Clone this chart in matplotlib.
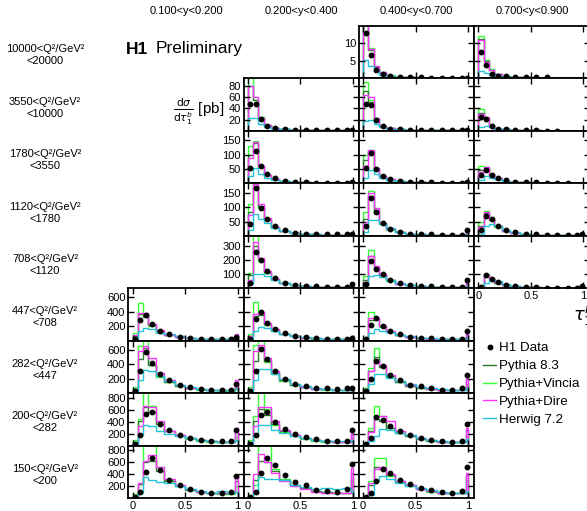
import numpy as np
import matplotlib
matplotlib.use("Agg")
import matplotlib.pyplot as plt
from matplotlib.lines import Line2D

plt.rcParams['font.family'] = ['Liberation Sans', 'DejaVu Sans']
nan = np.nan

# bin edges of tau_1^b
edges = [0, 0.05, 0.1, 0.15, 0.22, 0.3, 0.4, 0.5, 0.6, 0.7, 0.8, 0.9, 0.98, 1.0]

y_labels = ['0.100<y<0.200', '0.200<y<0.400', '0.400<y<0.700', '0.700<y<0.900']
q2_labels = ['10000<Q²/GeV²\n<20000', '3550<Q²/GeV²\n<10000', '1780<Q²/GeV²\n<3550',
             '1120<Q²/GeV²\n<1780', '708<Q²/GeV²\n<1120', '447<Q²/GeV²\n<708',
             '282<Q²/GeV²\n<447', '200<Q²/GeV²\n<282', '150<Q²/GeV²\n<200']
row_ymax = [15, 93, 183, 184, 370, 723, 725, 880, 875]
row_yticks = [[5, 10], [20, 40, 60, 80], [50, 100, 150], [50, 100, 150], [100, 200, 300],
              [200, 400, 600], [200, 400, 600], [200, 400, 600, 800], [200, 400, 600, 800]]

# ---- row 0 : 10000<Q2<20000
data_0_2 = [13.0, 6.8, 2.5, 1.3, 0.6, 0.4, 0.3, 0.3, 0.2, 0.2, 0.2, 0.1, 0.1]
p83_0_2 = [16.5, 8.0, 3.3, 1.7, 0.8, 0.5, 0.3, 0.25, 0.2, 0.15, 0.1, 0.1, 0.3]
vin_0_2 = [17.0, 8.6, 3.7, 1.8, 0.9, 0.5, 0.3, 0.25, 0.2, 0.15, 0.1, 0.1, 0.2]
dire_0_2 = [17.5, 8.4, 3.5, 1.8, 0.8, 0.5, 0.3, 0.25, 0.2, 0.15, 0.1, 0.1, 0.5]
hw_0_2 = [5.2, 3.6, 2.0, 1.1, 0.6, 0.4, 0.3, 0.2, 0.2, 0.15, 0.1, 0.1, 0.1]

data_0_3 = [7.5, 3.9, 1.2, 0.8, 0.6, 0.4, 0.3, 0.3, 0.3, nan, nan, nan, nan]
p83_0_3 = [11.3, 5.0, 2.5, 1.3, 0.7, 0.4, 0.3, 0.2, 0.2, 0.1, 0.05, 0.0, 0.0]
vin_0_3 = [12.0, 5.2, 2.6, 1.4, 0.7, 0.4, 0.3, 0.2, 0.2, 0.1, 0.05, 0.0, 0.0]
dire_0_3 = [11.0, 4.8, 2.5, 1.3, 0.7, 0.4, 0.3, 0.2, 0.2, 0.1, 0.05, 0.0, 0.0]
hw_0_3 = [2.0, 1.5, 1.0, 0.8, 0.6, 0.4, 0.3, 0.2, 0.1, 0.1, 0.05, 0.0, 0.0]

# ---- row 1 : 3550<Q2<10000
data_1_1 = [48, 47, 21, 9, 5, 3, 2, 1.5, 1, 1, 1, 1, 1.5]
p83_1_1 = [80, 55, 22, 10, 5, 3, 2, 1.5, 1, 1, 1, 1, 2]
vin_1_1 = [100, 55, 24, 10, 5, 3, 2, 1.5, 1, 1, 1, 1, 1]
dire_1_1 = [79, 60, 23, 10, 5, 3, 2, 1.5, 1, 1, 1, 1, 3]
hw_1_1 = [22, 23, 12, 7, 4, 3, 2, 1.5, 1, 1, 1, 1, 1]

data_1_2 = [47, 46, 19, 8, 4, 2.5, 1.5, 1, 1, 0.8, 0.8, 0.8, 2]
p83_1_2 = [70, 52, 20, 9, 4.5, 2.5, 1.5, 1, 1, 0.8, 0.8, 0.8, 2]
vin_1_2 = [87, 55, 22, 9, 4.5, 2.5, 1.5, 1, 1, 0.8, 0.8, 0.8, 1]
dire_1_2 = [63, 60, 22, 9, 4.5, 2.5, 1.5, 1, 1, 0.8, 0.8, 0.8, 3]
hw_1_2 = [18, 20, 12, 7, 4, 2.5, 1.5, 1, 1, 0.8, 0.8, 0.8, 1]

data_1_3 = [24, 21, 9, 4, 2.5, 1.5, 1, 0.8, 0.6, 0.5, nan, nan, nan]
p83_1_3 = [32, 22, 9, 4, 2.5, 1.5, 1, 0.8, 0.6, 0.5, 0.3, 0.2, 0.1]
vin_1_3 = [38, 22, 10, 4, 2.5, 1.5, 1, 0.8, 0.6, 0.5, 0.3, 0.2, 0.1]
dire_1_3 = [30, 25, 10, 4, 2.5, 1.5, 1, 0.8, 0.6, 0.5, 0.3, 0.2, 0.1]
hw_1_3 = [7, 9, 7, 4, 2.5, 1.5, 1, 0.8, 0.6, 0.5, 0.3, 0.2, 0.1]

# ---- row 2 : 1780<Q2<3550
data_2_1 = [55, 114, 59, 32, 17, 8, 4, 3, 2, 2, 2, 2, 5]
p83_2_1 = [100, 140, 62, 30, 15, 8, 4, 3, 2, 2, 2, 2, 4]
vin_2_1 = [129, 148, 58, 28, 14, 7, 4, 3, 2, 2, 2, 2, 3]
dire_2_1 = [88, 144, 61, 30, 15, 8, 4, 3, 2, 2, 2, 2, 7]
hw_2_1 = [26, 55, 32, 20, 13, 7, 4, 3, 2, 2, 2, 2, 2]

data_2_2 = [53, 105, 50, 26, 14, 8, 5, 3, 3, 2, 2, 2, 5]
p83_2_2 = [80, 112, 52, 26, 13, 7, 4, 3, 2, 2, 2, 2, 4]
vin_2_2 = [99, 117, 50, 25, 13, 7, 4, 3, 2, 2, 2, 2, 3]
dire_2_2 = [61, 117, 55, 27, 14, 7, 4, 3, 2, 2, 2, 2, 7]
hw_2_2 = [20, 46, 32, 20, 12, 7, 4, 3, 2, 2, 2, 2, 2]

data_2_3 = [28, 45, 30, 18, 10, 6, 4, 3, 2, 2, 2, nan, nan]
p83_2_3 = [45, 55, 30, 16, 9, 5, 3, 2, 2, 1, 1, 1, 1]
vin_2_3 = [60, 58, 30, 16, 9, 5, 3, 2, 2, 1, 1, 1, 1]
dire_2_3 = [40, 57, 32, 17, 9, 5, 3, 2, 2, 1, 1, 1, 2]
hw_2_3 = [12, 25, 20, 14, 9, 5, 3, 2, 2, 1, 1, 1, 1]

# ---- row 3 : 1120<Q2<1780
data_3_1 = [42, 166, 98, 60, 33, 19, 11, 8, 6, 5, 5, 5, 7]
p83_3_1 = [85, 175, 105, 58, 30, 17, 10, 7, 5, 4, 4, 4, 6]
vin_3_1 = [113, 200, 99, 55, 29, 16, 10, 7, 5, 4, 4, 4, 5]
dire_3_1 = [72, 180, 113, 62, 31, 17, 10, 7, 5, 4, 4, 4, 9]
hw_3_1 = [19, 75, 60, 45, 28, 17, 10, 7, 5, 4, 4, 4, 3]

data_3_2 = [33, 131, 84, 45, 25, 13, 8, 6, 5, 4, 4, 4, 21]
p83_3_2 = [60, 140, 90, 44, 23, 12, 7, 5, 4, 3, 3, 3, 15]
vin_3_2 = [84, 158, 84, 42, 22, 12, 7, 5, 4, 3, 3, 3, 10]
dire_3_2 = [48, 149, 96, 46, 24, 12, 7, 5, 4, 3, 3, 3, 18]
hw_3_2 = [13, 57, 54, 42, 26, 14, 8, 5, 4, 3, 3, 3, 5]

data_3_3 = [20, 70, 58, 35, 20, 12, 7, 5, 4, 3, 3, 3, 6]
p83_3_3 = [35, 80, 55, 33, 18, 10, 6, 4, 3, 3, 2, 2, 4]
vin_3_3 = [50, 88, 55, 32, 18, 10, 6, 4, 3, 3, 2, 2, 3]
dire_3_3 = [30, 85, 60, 34, 18, 10, 6, 4, 3, 3, 2, 2, 5]
hw_3_3 = [8, 35, 42, 35, 22, 12, 7, 4, 3, 3, 2, 2, 2]

# ---- row 4 : 708<Q2<1120
data_4_1 = [37, 254, 196, 121, 75, 40, 26, 18, 14, 12, 12, 12, 33]
p83_4_1 = [90, 300, 205, 115, 65, 36, 22, 15, 11, 9, 8, 8, 25]
vin_4_1 = [110, 380, 190, 108, 62, 35, 22, 15, 11, 9, 8, 8, 18]
dire_4_1 = [60, 324, 214, 120, 66, 36, 22, 15, 11, 9, 8, 8, 35]
hw_4_1 = [33, 98, 103, 85, 60, 38, 24, 16, 12, 10, 9, 9, 10]

data_4_2 = [33, 191, 137, 98, 60, 37, 24, 17, 13, 11, 11, 12, 56]
p83_4_2 = [60, 230, 150, 95, 55, 33, 21, 14, 10, 8, 8, 8, 40]
vin_4_2 = [84, 270, 145, 90, 53, 32, 20, 14, 10, 8, 8, 8, 30]
dire_4_2 = [45, 230, 155, 98, 56, 33, 21, 14, 10, 8, 8, 8, 50]
hw_4_2 = [21, 84, 91, 80, 58, 38, 25, 17, 12, 10, 9, 9, 15]

data_4_3 = [9, 91, 68, 44, 26, 14, 9, 6, 5, 4, 4, 4, 14]
p83_4_3 = [15, 95, 65, 40, 24, 13, 8, 6, 4, 4, 3, 3, 10]
vin_4_3 = [22, 103, 62, 38, 23, 13, 8, 6, 4, 4, 3, 3, 8]
dire_4_3 = [12, 91, 66, 41, 24, 13, 8, 6, 4, 4, 3, 3, 12]
hw_4_3 = [5, 40, 62, 52, 33, 18, 10, 7, 5, 4, 3, 3, 4]

# ---- row 5 : 447<Q2<708
data_5_0 = [18, 291, 350, 232, 132, 86, 55, 36, 27, 27, 27, 27, 55]
p83_5_0 = [60, 370, 330, 215, 130, 80, 50, 34, 25, 22, 20, 20, 50]
vin_5_0 = [109, 519, 368, 200, 120, 75, 48, 32, 24, 20, 18, 18, 35]
dire_5_0 = [73, 382, 382, 236, 146, 85, 52, 35, 26, 22, 20, 20, 86]
hw_5_0 = [27, 132, 177, 164, 109, 86, 58, 40, 30, 25, 22, 22, 25]

data_5_1 = [27, 300, 396, 245, 164, 100, 64, 45, 36, 27, 27, 27, 36]
p83_5_1 = [70, 340, 360, 230, 150, 95, 60, 42, 32, 26, 24, 24, 35]
vin_5_1 = [90, 528, 380, 215, 140, 90, 58, 40, 30, 25, 22, 22, 25]
dire_5_1 = [60, 368, 400, 250, 155, 95, 60, 42, 32, 26, 24, 24, 45]
hw_5_1 = [25, 130, 195, 180, 130, 95, 65, 45, 34, 28, 25, 25, 22]

data_5_2 = [20, 223, 314, 209, 132, 86, 55, 41, 32, 27, 27, 30, 132]
p83_5_2 = [40, 280, 300, 200, 125, 80, 52, 38, 28, 24, 22, 22, 90]
vin_5_2 = [55, 396, 300, 190, 120, 78, 50, 36, 27, 23, 21, 21, 60]
dire_5_2 = [35, 314, 310, 205, 128, 80, 52, 38, 28, 24, 22, 22, 110]
hw_5_2 = [15, 109, 164, 140, 115, 85, 60, 42, 32, 26, 23, 23, 35]

# ---- row 6 : 282<Q2<447
data_6_0 = [23, 300, 563, 416, 263, 176, 106, 79, 55, 46, 46, 46, 129]
p83_6_0 = [60, 470, 620, 390, 240, 160, 100, 70, 52, 42, 38, 38, 110]
vin_6_0 = [83, 647, 780, 393, 230, 150, 95, 66, 48, 40, 36, 36, 70]
dire_6_0 = [46, 577, 647, 485, 277, 185, 110, 75, 55, 44, 40, 40, 185]
hw_6_0 = [23, 185, 323, 300, 231, 162, 110, 80, 60, 48, 44, 44, 60]

data_6_1 = [23, 300, 610, 476, 310, 199, 125, 92, 69, 65, 55, 69, 69]
p83_6_1 = [60, 450, 640, 450, 280, 180, 115, 85, 62, 52, 46, 46, 60]
vin_6_1 = [80, 660, 800, 430, 265, 170, 110, 80, 60, 50, 44, 44, 40]
dire_6_1 = [50, 580, 660, 490, 300, 190, 120, 88, 64, 54, 48, 48, 80]
hw_6_1 = [25, 180, 330, 340, 260, 190, 130, 95, 70, 56, 50, 50, 55]

data_6_2 = [30, 194, 448, 370, 254, 185, 115, 92, 69, 46, 46, 69, 254]
p83_6_2 = [50, 300, 500, 360, 240, 160, 105, 78, 58, 46, 42, 42, 200]
vin_6_2 = [70, 350, 624, 370, 230, 150, 100, 74, 55, 44, 40, 40, 130]
dire_6_2 = [45, 300, 462, 393, 250, 165, 108, 80, 60, 48, 44, 44, 240]
hw_6_2 = [20, 130, 270, 265, 210, 165, 120, 90, 68, 54, 48, 48, 70]

# ---- row 7 : 200<Q2<282
data_7_0 = [31, 182, 535, 557, 367, 255, 182, 126, 87, 70, 70, 70, 255]
p83_7_0 = [60, 420, 640, 560, 370, 240, 170, 120, 86, 70, 64, 64, 230]
vin_7_0 = [98, 450, 950, 660, 390, 240, 165, 115, 82, 66, 60, 60, 150]
dire_7_0 = [42, 330, 660, 650, 410, 250, 175, 125, 90, 72, 65, 65, 300]
hw_7_0 = [20, 182, 350, 322, 238, 200, 160, 120, 90, 72, 66, 66, 90]

data_7_1 = [30, 180, 510, 570, 400, 280, 200, 140, 105, 80, 75, 75, 260]
p83_7_1 = [60, 420, 620, 520, 360, 250, 175, 125, 90, 70, 64, 64, 200]
vin_7_1 = [90, 500, 950, 620, 340, 235, 165, 118, 85, 68, 62, 62, 130]
dire_7_1 = [45, 330, 640, 640, 420, 260, 180, 128, 92, 72, 66, 66, 300]
hw_7_1 = [20, 170, 340, 350, 260, 210, 165, 125, 95, 78, 70, 70, 100]

data_7_2 = [20, 126, 482, 437, 336, 241, 185, 129, 101, 73, 62, 84, 370]
p83_7_2 = [40, 250, 450, 420, 300, 215, 160, 115, 85, 65, 58, 58, 260]
vin_7_2 = [60, 300, 672, 500, 300, 210, 155, 110, 82, 63, 56, 56, 160]
dire_7_2 = [30, 220, 493, 504, 409, 240, 170, 120, 88, 68, 60, 60, 300]
hw_7_2 = [15, 80, 157, 280, 269, 213, 175, 130, 100, 78, 68, 68, 110]

# ---- row 8 : 150<Q2<200
data_8_0 = [10, 100, 430, 670, 475, 305, 217, 143, 103, 86, 86, 97, 371]
p83_8_0 = [30, 230, 600, 620, 450, 290, 200, 140, 100, 82, 78, 78, 280]
vin_8_0 = [60, 230, 1000, 1000, 514, 300, 200, 140, 100, 80, 75, 75, 200]
dire_8_0 = [20, 250, 622, 711, 522, 311, 210, 145, 105, 85, 80, 80, 380]
hw_8_0 = [8, 86, 343, 300, 270, 257, 200, 155, 115, 85, 110, 80, 100]

data_8_1 = [11, 108, 423, 662, 554, 377, 263, 217, 137, 120, 108, 148, 565]
p83_8_1 = [30, 300, 620, 600, 450, 300, 210, 160, 115, 95, 85, 90, 420]
vin_8_1 = [50, 223, 1000, 1000, 480, 320, 220, 160, 115, 95, 85, 90, 300]
dire_8_1 = [20, 400, 737, 594, 423, 280, 194, 148, 108, 91, 80, 80, 508]
hw_8_1 = [10, 80, 354, 320, 320, 297, 223, 177, 148, 166, 148, 166, 120]

data_8_2 = [11, 80, 280, 480, 423, 308, 234, 166, 126, 97, 91, 120, 525]
p83_8_2 = [30, 220, 520, 480, 380, 280, 210, 150, 110, 88, 80, 85, 380]
vin_8_2 = [40, 280, 662, 662, 370, 275, 205, 148, 108, 86, 78, 82, 300]
dire_8_2 = [25, 250, 491, 525, 394, 285, 210, 150, 110, 88, 80, 85, 423]
hw_8_2 = [10, 51, 280, 365, 320, 251, 194, 166, 137, 108, 91, 80, 110]

panels = {
    (0, 2): (data_0_2, p83_0_2, vin_0_2, dire_0_2, hw_0_2),
    (0, 3): (data_0_3, p83_0_3, vin_0_3, dire_0_3, hw_0_3),
    (1, 1): (data_1_1, p83_1_1, vin_1_1, dire_1_1, hw_1_1),
    (1, 2): (data_1_2, p83_1_2, vin_1_2, dire_1_2, hw_1_2),
    (1, 3): (data_1_3, p83_1_3, vin_1_3, dire_1_3, hw_1_3),
    (2, 1): (data_2_1, p83_2_1, vin_2_1, dire_2_1, hw_2_1),
    (2, 2): (data_2_2, p83_2_2, vin_2_2, dire_2_2, hw_2_2),
    (2, 3): (data_2_3, p83_2_3, vin_2_3, dire_2_3, hw_2_3),
    (3, 1): (data_3_1, p83_3_1, vin_3_1, dire_3_1, hw_3_1),
    (3, 2): (data_3_2, p83_3_2, vin_3_2, dire_3_2, hw_3_2),
    (3, 3): (data_3_3, p83_3_3, vin_3_3, dire_3_3, hw_3_3),
    (4, 1): (data_4_1, p83_4_1, vin_4_1, dire_4_1, hw_4_1),
    (4, 2): (data_4_2, p83_4_2, vin_4_2, dire_4_2, hw_4_2),
    (4, 3): (data_4_3, p83_4_3, vin_4_3, dire_4_3, hw_4_3),
    (5, 0): (data_5_0, p83_5_0, vin_5_0, dire_5_0, hw_5_0),
    (5, 1): (data_5_1, p83_5_1, vin_5_1, dire_5_1, hw_5_1),
    (5, 2): (data_5_2, p83_5_2, vin_5_2, dire_5_2, hw_5_2),
    (6, 0): (data_6_0, p83_6_0, vin_6_0, dire_6_0, hw_6_0),
    (6, 1): (data_6_1, p83_6_1, vin_6_1, dire_6_1, hw_6_1),
    (6, 2): (data_6_2, p83_6_2, vin_6_2, dire_6_2, hw_6_2),
    (7, 0): (data_7_0, p83_7_0, vin_7_0, dire_7_0, hw_7_0),
    (7, 1): (data_7_1, p83_7_1, vin_7_1, dire_7_1, hw_7_1),
    (7, 2): (data_7_2, p83_7_2, vin_7_2, dire_7_2, hw_7_2),
    (8, 0): (data_8_0, p83_8_0, vin_8_0, dire_8_0, hw_8_0),
    (8, 1): (data_8_1, p83_8_1, vin_8_1, dire_8_1, hw_8_1),
    (8, 2): (data_8_2, p83_8_2, vin_8_2, dire_8_2, hw_8_2),
}

c_p83 = '#2f7a2f'
c_vin = '#33ff33'
c_dire = '#ff33ff'
c_hw = '#22c4d6'

W, H = 587, 511
left0, pw = 128.3, 115.3
top0, ph = 26.0, 52.45

fig = plt.figure(figsize=(W / 100, H / 100), dpi=100)
centers = 0.5 * (np.array(edges[1:]) + np.array(edges[:-1]))

for (r, c), (dat, p83, vin, dire, hw) in panels.items():
    x = left0 + c * pw
    y = top0 + r * ph
    ax = fig.add_axes([x / W, 1 - (y + ph) / H, pw / W, ph / H])
    ax.stairs(vin, edges, color=c_vin, lw=1.0)
    ax.stairs(p83, edges, color=c_p83, lw=1.0)
    ax.stairs(dire, edges, color=c_dire, lw=1.0)
    ax.stairs(hw, edges, color=c_hw, lw=1.0)
    ax.plot(centers, dat, 'o', color='black', ms=3.2, zorder=5)
    ax.set_xlim(-0.04, 1.058)
    ax.set_ylim(0, row_ymax[r])
    ax.set_xticks([0, 0.5, 1])
    ax.set_xticklabels(['0', '0.5', '1'])
    ax.set_yticks(row_yticks[r])
    ax.tick_params(direction='in', top=True, right=True, length=4, width=1.0,
                   labelsize=8, pad=2)
    first_col = min(cc for (rr, cc) in panels if rr == r)
    if c != first_col:
        ax.tick_params(labelleft=False)
    if not (r == 8 or (r == 4 and c == 3)):
        ax.tick_params(labelbottom=False)
    for s in ax.spines.values():
        s.set_linewidth(1.3)

# column headers
for c, lab in enumerate(y_labels):
    fig.text((left0 + (c + 0.5) * pw) / W, 1 - 11.5 / H, lab, ha='center', va='center', fontsize=8)

# row labels
for r, lab in enumerate(q2_labels):
    fig.text(45 / W, 1 - (top0 + (r + 0.5) * ph + 3) / H, lab, ha='center', va='center',
             fontsize=8, linespacing=1.25)

fig.text(126 / W, 1 - 49 / H, 'H1', fontsize=12.5, fontweight='bold', va='center')
fig.text(156 / W, 1 - 49 / H, 'Preliminary', fontsize=12.5, va='center')
fig.text(224 / W, 1 - 112 / H, r'$\frac{\mathrm{d}\sigma}{\mathrm{d}\tau_1^b}$ [pb]',
         fontsize=11, ha='right', va='center')
fig.text(573 / W, 1 - 315 / H, r'$\tau_1^b$', fontsize=13, ha='left', va='center')

handles = [Line2D([], [], marker='o', ls='none', color='black', ms=3.2),
           Line2D([], [], color=c_p83, lw=1.0),
           Line2D([], [], color=c_vin, lw=1.0),
           Line2D([], [], color=c_dire, lw=1.0),
           Line2D([], [], color=c_hw, lw=1.0)]
labels = ['H1 Data', 'Pythia 8.3', 'Pythia+Vincia', 'Pythia+Dire', 'Herwig 7.2']
fig.legend(handles, labels, loc='upper left', bbox_to_anchor=(483 / W, 1 - 342 / H),
           frameon=False, fontsize=9.6, handlelength=1.0, handletextpad=0.2,
           labelspacing=0.42, borderaxespad=0, borderpad=0)

fig.savefig('out.png', dpi=100)
